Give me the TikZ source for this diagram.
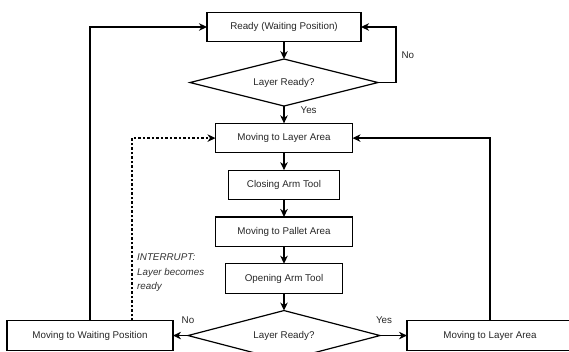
\documentclass[tikz,border=0pt]{standalone}
\usepackage{fontspec}
\setmainfont{Liberation Sans}
\usepackage{xcolor}
\usepackage{tikz}
\usetikzlibrary{positioning,shapes.geometric,arrows.meta}

\begin{document}
\begin{tikzpicture}[
    x=1pt, y=-1pt,
    node distance=17.3pt,
    font=\fontsize{9.8}{12}\selectfont,
    stepbox/.style={rectangle, draw, line width=1.2pt, outer sep=0pt, text=black!85, minimum height=29.5pt, inner sep=2pt},
    decision/.style={diamond, draw, line width=1.2pt, outer sep=0pt, text=black!85, aspect=4, inner sep=0pt},
    line/.style={draw, line width=1.2pt, -{Stealth[length=8pt, width=7.5pt, inset=2.5pt]}},
    tag/.style={text=black!85, inner sep=2pt},
    note/.style={text=black!80, font=\fontsize{9.8}{14.5}\selectfont\itshape, align=left, inner sep=2pt}
]
\useasboundingbox (0,0) rectangle (569,352);
\clip (0,0) rectangle (569,352);

% Nodes
\node[stepbox, minimum width=154pt] (ready) at (284,27) {Ready (Waiting Position)};
\node[decision, minimum width=188pt, minimum height=47pt, below=of ready] (check1) {Layer Ready?};
\node[stepbox, minimum width=137pt, below=of check1] (layer) {Moving to Layer Area};
\node[stepbox, minimum width=111pt, below=of layer] (closing) {Closing Arm Tool};
\node[stepbox, minimum width=137pt, below=of closing] (pallet) {Moving to Pallet Area};
\node[stepbox, minimum width=117pt, below=of pallet] (opening) {Opening Arm Tool};
\node[decision, minimum width=192pt, minimum height=50pt, below=of opening] (check2) {Layer Ready?};
\node[stepbox, minimum width=166pt, left=15pt of check2] (wait) {Moving to Waiting Position};
\node[stepbox, minimum width=166pt, right=27pt of check2] (reach) {Moving to Layer Area};
\node[note, anchor=north west] (interrupt) at (135,252) {INTERRUPT:\\Layer becomes\\ready};

% Paths
\draw[line] (ready) -- (check1);
\draw[line] (check1.east) -- ++(18,0) |- node[tag, pos=0.25, right=3pt] {No} (ready.east);
\draw[line] (check1) -- node[tag, pos=0.25, right=14pt] {Yes} (layer);
\draw[line] (layer) -- (closing);
\draw[line] (closing) -- (pallet);
\draw[line] (pallet) -- (opening);
\draw[line] (opening) -- (check2);
\draw[line] (check2.west) -- node[tag, pos=0, anchor=south, yshift=9pt] {No} (wait);
\draw[line] (check2.east) -- node[tag, pos=0, anchor=south, xshift=4pt, yshift=9pt] {Yes} (reach);
\draw[line] (wait.north) |- (ready.west);
\draw[line, dash pattern=on 2.5pt off 2pt] ([xshift=42pt]wait.north) |- (layer.west);
\draw[line] (reach.north) |- (layer.east);

\end{tikzpicture}
\end{document}
